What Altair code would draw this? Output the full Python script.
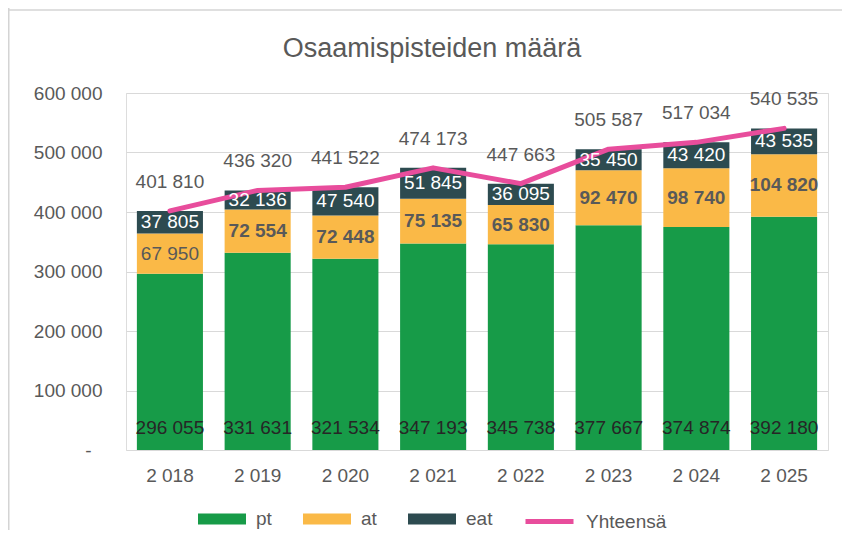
import altair as alt
import pandas as pd

FONT = "Liberation Sans"
GRAY = "#595959"

years = ["2 018", "2 019", "2 020", "2 021", "2 022", "2 023", "2 024", "2 025"]
pt = [296055, 331631, 321534, 347193, 345738, 377667, 374874, 392180]
at = [67950, 72554, 72448, 75135, 65830, 92470, 98740, 104820]
eat = [37805, 32136, 47540, 51845, 36095, 35450, 43420, 43535]
total = [401810, 436320, 441522, 474173, 447663, 505587, 517034, 540535]
series = ["pt", "at", "eat"]
colors = ["#179b48", "#fab947", "#2d4b50"]
line_name = "Yhteensä"
line_color = "#e84d9c"
y_ticks = [0, 100000, 200000, 300000, 400000, 500000, 600000]


def fmt(v):
    return f"{v:,}".replace(",", " ")


rows = []
for i, yr in enumerate(years):
    base = 0
    for s, vals in zip(series, [pt, at, eat]):
        v = vals[i]
        rows.append(dict(year=yr, series=s, value=v, y0=base, y1=base + v,
                         mid=base + v / 2, label=fmt(v)))
        base += v
seg = pd.DataFrame(rows)
tot = pd.DataFrame(dict(year=years, total=total,
                        label=[fmt(v) for v in total], s=line_name))

xenc = alt.X("year:N", sort=years,
             scale=alt.Scale(paddingInner=0.247, paddingOuter=0.124),
             axis=alt.Axis(title=None, labelAngle=0, ticks=False, domain=False,
                           labelPadding=16, labelFontSize=19, labelFont=FONT,
                           labelColor=GRAY, grid=False))
yscale = alt.Scale(domain=[0, 600000], nice=False, zero=True)
yaxis = alt.Axis(title=None, values=y_ticks, ticks=False, domain=False,
                 grid=True, gridColor="#d9d9d9", gridWidth=1,
                 labelPadding={"condition": {"test": "datum.value == 0", "value": 35},
                               "value": 24},
                 labelFontSize=19, labelFont=FONT, labelColor=GRAY,
                 labelExpr="datum.value == 0 ? '-' : format(datum.value / 1000, 'd') + ' 000'")

bar_legend = alt.Legend(title=None, orient="none", legendX=72, legendY=402,
                        direction="horizontal",
                        symbolType="M-1,-0.23H1V0.23H-1Z", symbolSize=2304,
                        symbolStrokeWidth=0, labelFontSize=19, labelFont=FONT,
                        labelColor=GRAY, labelOffset=10, columnPadding=31,
                        padding=0)
line_legend = alt.Legend(title=None, orient="none", legendX=397, legendY=402,
                         direction="horizontal", symbolType="stroke",
                         symbolSize=2304, symbolStrokeWidth=5,
                         labelFontSize=19, labelFont=FONT, labelColor=GRAY,
                         labelOffset=10, padding=0)

bars = alt.Chart(seg).mark_bar().encode(
    x=xenc,
    y=alt.Y("y0:Q", scale=yscale, axis=yaxis),
    y2="y1:Q",
    fill=alt.Fill("series:N", sort=series,
                  scale=alt.Scale(domain=series, range=colors),
                  legend=bar_legend),
)

line = alt.Chart(tot).mark_line(strokeWidth=5, strokeCap="round",
                                strokeJoin="round").encode(
    x=xenc,
    y=alt.Y("total:Q", scale=yscale, axis=yaxis),
    stroke=alt.Stroke("s:N", scale=alt.Scale(domain=[line_name], range=[line_color]),
                      legend=line_legend),
)

txt = dict(font=FONT, fontSize=19, baseline="middle", align="center")

eat_txt = alt.Chart(seg).transform_filter("datum.series == 'eat'").mark_text(
    color="white", **txt).encode(
    x=xenc, y=alt.Y("mid:Q", scale=yscale, axis=yaxis), text="label:N")

at_txt_n = alt.Chart(seg).transform_filter(
    "datum.series == 'at' && datum.year == '2 018'").mark_text(
    color=GRAY, fontWeight="normal", **txt).encode(
    x=xenc, y=alt.Y("mid:Q", scale=yscale, axis=yaxis), text="label:N")

at_txt_b = alt.Chart(seg).transform_filter(
    "datum.series == 'at' && datum.year != '2 018'").mark_text(
    color=GRAY, fontWeight="bold", **txt).encode(
    x=xenc, y=alt.Y("mid:Q", scale=yscale, axis=yaxis), text="label:N")

pt_txt = alt.Chart(seg).transform_filter("datum.series == 'pt'").mark_text(
    color="#262626", dy=-22, **txt).encode(
    x=xenc, y=alt.Y("y0:Q", scale=yscale, axis=yaxis), text="label:N")

tot_txt = alt.Chart(tot).mark_text(color=GRAY, dy=-29, **txt).encode(
    x=xenc, y=alt.Y("total:Q", scale=yscale, axis=yaxis), text="label:N")

one = pd.DataFrame({"k": [0]})
frame_top = alt.Chart(one).mark_rule(color="#d4d4d4", strokeWidth=1.5).encode(
    x=alt.value(-118), x2=alt.value(716), y=alt.value(-83))
frame_left = alt.Chart(one).mark_rule(color="#d4d4d4", strokeWidth=1.5).encode(
    x=alt.value(-117.25), y=alt.value(-85), y2=alt.value(440))

chart = alt.layer(frame_top, frame_left, bars, line, eat_txt, at_txt_n, at_txt_b,
                  pt_txt, tot_txt).properties(
    width=702, height=357,
    autosize=alt.AutoSizeParams(type="none"),
    padding={"left": 118, "top": 85, "right": 14, "bottom": 80},
    title=alt.TitleParams(text="Osaamispisteiden määrä", font=FONT, fontSize=27,
                          fontWeight="normal", color=GRAY, anchor="middle",
                          frame="group", dx=-45, offset=-77, baseline="alphabetic"),
).configure_view(stroke=None).configure(background="white")

chart.save("out.html", embed_options={"renderer": "svg", "actions": False})
